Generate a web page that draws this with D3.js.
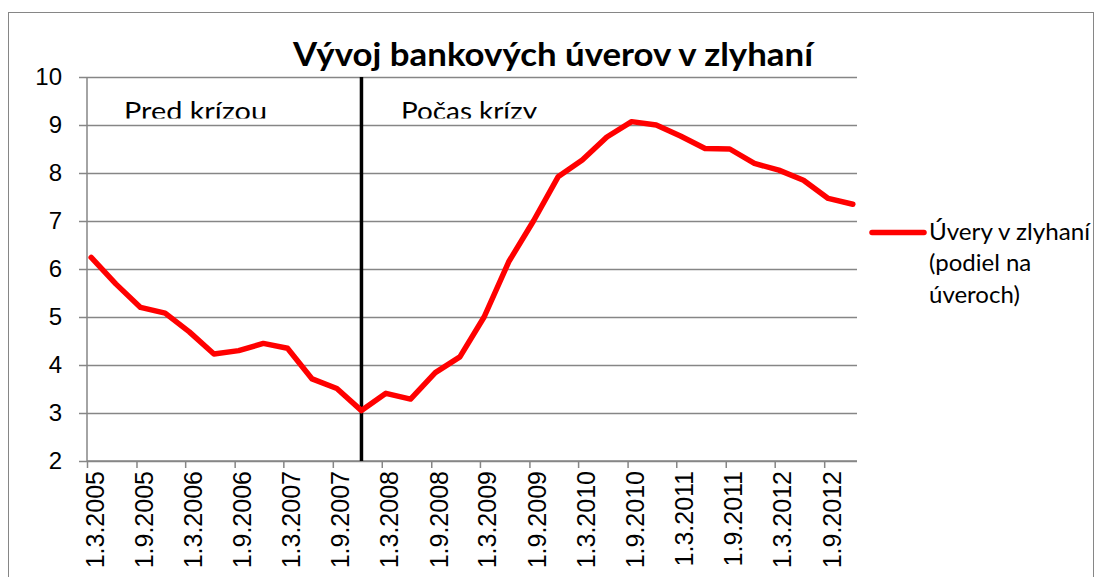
<!DOCTYPE html>
<html>
<head>
<meta charset="utf-8">
<script src="https://cdn.jsdelivr.net/npm/d3@7"></script>
<style>
  body { margin: 0; background: #fff; }
  svg { display: block; font-family: Lato, "Noto Sans", sans-serif; }
</style>
</head>
<body>
<svg id="chart" width="1097" height="577"></svg>
<script>
// quarterly data, Mar 2005 - Dec 2012
const dates = ['1.3.2005', '1.6.2005', '1.9.2005', '1.12.2005',
  '1.3.2006', '1.6.2006', '1.9.2006', '1.12.2006',
  '1.3.2007', '1.6.2007', '1.9.2007', '1.12.2007',
  '1.3.2008', '1.6.2008', '1.9.2008', '1.12.2008',
  '1.3.2009', '1.6.2009', '1.9.2009', '1.12.2009',
  '1.3.2010', '1.6.2010', '1.9.2010', '1.12.2010',
  '1.3.2011', '1.6.2011', '1.9.2011', '1.12.2011',
  '1.3.2012', '1.6.2012', '1.9.2012', '1.12.2012'];
const npl = [6.24, 5.69, 5.20, 5.08, 4.69, 4.23, 4.30, 4.45,
  4.35, 3.71, 3.51, 3.05, 3.41, 3.29, 3.84, 4.17,
  5.00, 6.15, 7.00, 7.92, 8.27, 8.75, 9.07, 9.00,
  8.77, 8.51, 8.50, 8.20, 8.06, 7.85, 7.47, 7.35];
const xTickLabels = ['1.3.2005', '1.9.2005', '1.3.2006', '1.9.2006', '1.3.2007', '1.9.2007',
  '1.3.2008', '1.9.2008', '1.3.2009', '1.9.2009', '1.3.2010', '1.9.2010',
  '1.3.2011', '1.9.2011', '1.3.2012', '1.9.2012'];
const yTicks = [2, 3, 4, 5, 6, 7, 8, 9, 10];
const crisisStart = '1.12.2007';
const title = 'Vývoj bankových úverov v zlyhaní';
const periods = ['Pred krízou', 'Počas krízy'];
const legendLines = ['Úvery v zlyhaní', '(podiel na', 'úveroch)'];

const parse = d3.timeParse('%d.%m.%Y');
const grid = '#868686';

const svg = d3.select('#chart');
const plot = { left: 87, right: 857, top: 77, bottom: 461 };

const x = d3.scaleTime()
  .domain([parse('1.3.2005'), parse('1.1.2013')])
  .range([plot.left, plot.right]);
const y = d3.scaleLinear().domain([2, 10]).range([plot.bottom, plot.top]);

// points sit in the middle of their month
const xMid = s => {
  const d = parse(s);
  return (x(d) + x(d3.timeMonth.offset(d, 1))) / 2;
};

// outer frame
svg.append('rect')
  .attr('x', 8.5).attr('y', 12.5)
  .attr('width', 1085).attr('height', 600)
  .attr('fill', 'none').attr('stroke', grid);

// y axis with gridlines
const yAxis = svg.append('g')
  .attr('transform', `translate(${plot.left},0)`)
  .call(d3.axisLeft(y).tickValues(yTicks).tickSize(8).tickPadding(17));
yAxis.selectAll('.tick line').clone()
  .attr('x1', 0).attr('x2', plot.right - plot.left);
yAxis.selectAll('line').attr('stroke', grid).attr('stroke-width', 1.5);
yAxis.select('.domain').attr('stroke', grid).attr('stroke-width', 1.5)
  .attr('d', `M0,${plot.top}V${plot.bottom}`);
yAxis.selectAll('text').attr('font-size', 24).attr('fill', '#000');

// x axis
const xAxis = svg.append('g')
  .attr('transform', `translate(0,${plot.bottom})`)
  .call(d3.axisBottom(x).tickValues(xTickLabels.map(parse)).tickSize(7)
    .tickFormat(d3.timeFormat('%-d.%-m.%Y')));
xAxis.select('.domain').attr('stroke', grid).attr('stroke-width', 1.5)
  .attr('d', `M${plot.left},0H${plot.right}`);
xAxis.selectAll('line').attr('stroke', grid).attr('stroke-width', 1.5);
xAxis.selectAll('text')
  .attr('font-size', 25).attr('fill', '#000')
  .attr('text-anchor', 'end')
  .attr('y', 0).attr('dy', '0.36em')
  .attr('transform', 'translate(7,10) rotate(-90)');

// crisis marker
svg.append('line')
  .attr('x1', xMid(crisisStart)).attr('x2', xMid(crisisStart))
  .attr('y1', plot.top).attr('y2', plot.bottom)
  .attr('stroke', '#000').attr('stroke-width', 3.5);

// period labels, cut at the bottom like text boxes in the original
svg.append('clipPath').attr('id', 'boxclip')
  .append('rect').attr('x', 0).attr('y', 90).attr('width', 800).attr('height', 28.5);
const periodX = [124, 401];
const periodW = [143, 136];
svg.append('g').attr('clip-path', 'url(#boxclip)')
  .selectAll('text').data(periods).join('text')
  .attr('x', (d, i) => periodX[i]).attr('y', 119.5)
  .attr('font-size', 25)
  .attr('textLength', (d, i) => periodW[i]).attr('lengthAdjust', 'spacingAndGlyphs')
  .text(d => d);

// the series
const line = d3.line()
  .x((d, i) => xMid(dates[i]))
  .y(d => y(d));
svg.append('path')
  .datum(npl)
  .attr('d', line)
  .attr('fill', 'none')
  .attr('stroke', '#ff0000')
  .attr('stroke-width', 5.5)
  .attr('stroke-linejoin', 'round')
  .attr('stroke-linecap', 'round');

// title
svg.append('text')
  .attr('x', 293).attr('y', 66)
  .attr('font-size', 33).attr('font-weight', 'bold')
  .attr('textLength', 520).attr('lengthAdjust', 'spacingAndGlyphs')
  .text(title);

// legend
svg.append('line')
  .attr('x1', 872).attr('x2', 924).attr('y1', 232.5).attr('y2', 232.5)
  .attr('stroke', '#ff0000').attr('stroke-width', 5.5).attr('stroke-linecap', 'round');
svg.append('g')
  .selectAll('text').data(legendLines).join('text')
  .attr('x', 929).attr('y', (d, i) => 239.5 + i * 31.7)
  .attr('font-size', 24)
  .attr('textLength', (d, i) => i == 0 ? 161 : null)
  .attr('lengthAdjust', 'spacingAndGlyphs')
  .text(d => d);
</script>
</body>
</html>
